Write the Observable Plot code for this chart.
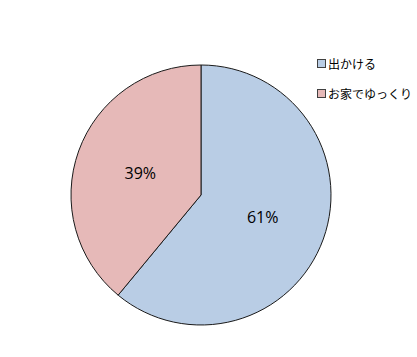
<!DOCTYPE html>
<html>
<head>
<meta charset="utf-8">
<script src="https://cdn.jsdelivr.net/npm/d3@7"></script>
<script src="https://cdn.jsdelivr.net/npm/@observablehq/plot@0.6"></script>
<style>
  html, body { margin: 0; padding: 0; background: #fff; }
  #wrap { position: relative; width: 417px; height: 357px; }
  #legend { position: absolute; left: 317px; top: 55px; font-family: "Noto Sans CJK JP", sans-serif; font-size: 12px; color: #000; }
  .item { display: flex; align-items: center; height: 16px; margin-bottom: 14px; }
  .sw { width: 7px; height: 7px; border: 1px solid #404040; margin-right: 2px; }
</style>
</head>
<body>
<div id="wrap"></div>
<script>
// Share of answers by activity
const categories = ["出かける", "お家でゆっくり"];
const values = [61, 39];
const colors = ["#B9CDE5", "#E6B9B8"];

const data = categories.map((c, i) => ({ category: c, value: values[i], color: colors[i] }));

// Slices start at 12 o'clock and run clockwise
const pie = d3.pie().sort(null).value(d => d.value).startAngle(0);
const arcs = pie(data);
const unitArc = d3.arc().innerRadius(0).outerRadius(1);

const labels = arcs.map(a => {
  const [cx, cy] = unitArc.centroid(a);
  return { x: cx, y: -cy, text: a.data.value + "%" };
});

function slices(index, scales, values, dimensions) {
  const x = scales.x, y = scales.y;
  const cx = x(0), cy = y(0);
  const r = x(1) - x(0);
  const arc = d3.arc().innerRadius(0).outerRadius(r);
  const g = d3.create("svg:g").attr("transform", `translate(${cx},${cy})`);
  g.selectAll("path")
    .data(arcs)
    .join("path")
    .attr("d", arc)
    .attr("fill", d => d.data.color)
    .attr("stroke", "#1a1a1a")
    .attr("stroke-width", 1)
    .attr("stroke-linejoin", "round");
  return g.node();
}

const chart = Plot.plot({
  width: 417,
  height: 357,
  marginLeft: 71,
  marginRight: 86,
  marginTop: 65,
  marginBottom: 32,
  x: { domain: [-1, 1], axis: null },
  y: { domain: [-1, 1], axis: null },
  style: { background: "#fff", overflow: "visible" },
  marks: [
    slices,
    Plot.text(labels, {
      x: "x", y: "y", text: "text",
      fontSize: 16, fontWeight: "normal", fill: "#000",
      fontFamily: "Open Sans, sans-serif"
    })
  ]
});

const wrap = document.getElementById("wrap");
wrap.appendChild(chart);

const legend = document.createElement("div");
legend.id = "legend";
categories.forEach((c, i) => {
  const item = document.createElement("div");
  item.className = "item";
  const sw = document.createElement("span");
  sw.className = "sw";
  sw.style.background = colors[i];
  const t = document.createElement("span");
  t.textContent = c;
  item.appendChild(sw);
  item.appendChild(t);
  legend.appendChild(item);
});
wrap.appendChild(legend);
</script>
</body>
</html>
